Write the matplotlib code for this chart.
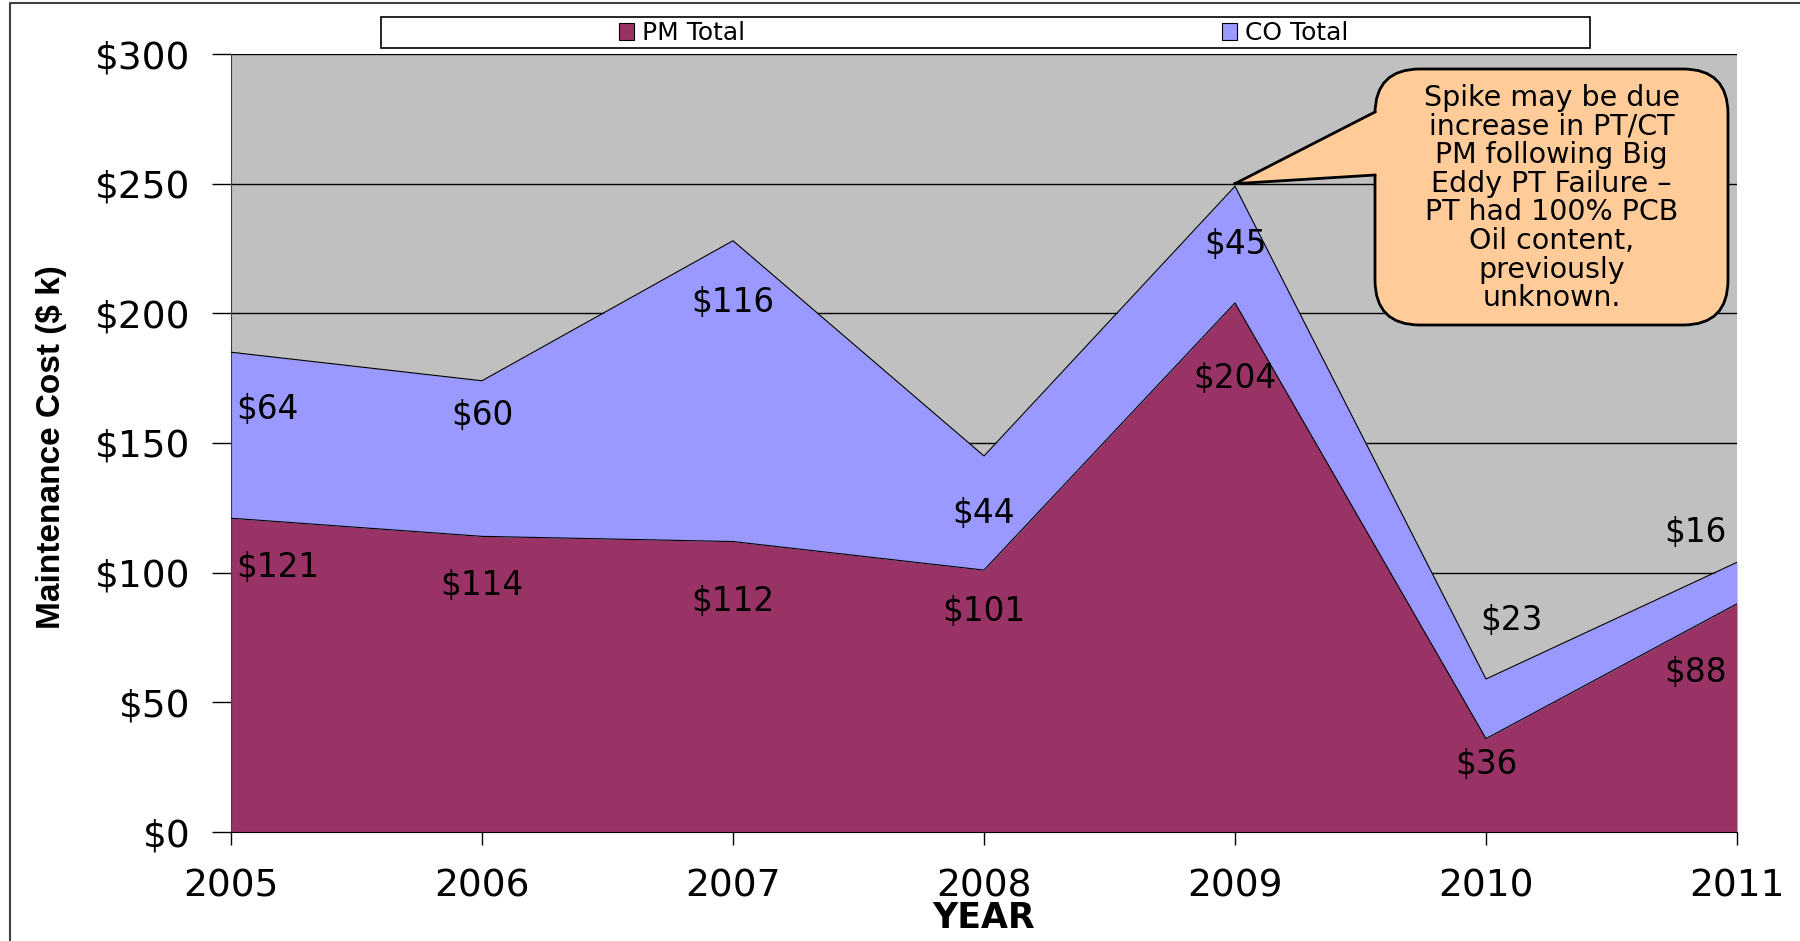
import matplotlib
matplotlib.use("Agg")
import matplotlib.pyplot as plt
from matplotlib.patches import Patch, Rectangle, FancyBboxPatch, Polygon
from matplotlib.lines import Line2D

# --- data ---
years = [2005, 2006, 2007, 2008, 2009, 2010, 2011]
pm_total = [121, 114, 112, 101, 204, 36, 88]
co_total = [64, 60, 116, 44, 45, 23, 16]
y_ticks = [0, 50, 100, 150, 200, 250, 300]
callout_text = ("Spike may be due\nincrease in PT/CT\nPM following Big\n"
                "Eddy PT Failure \u2013\nPT had 100% PCB\nOil content,\n"
                "previously\nunknown.")

# label placement (value units), as excel put them
pm_label_y = [102, 95, 89, 85, 175, 26, 61.5]
co_label_y = [163, 160.5, 204, 123, 226.5, 81.5, 115.5]
co_label_dx = [0, 0, 0, 0, 0, 0.1, 0]

PM_COL = "#993366"
CO_COL = "#9999FF"
BG_COL = "#C0C0C0"

W, H, DPI = 18.0, 9.41, 100
fig = plt.figure(figsize=(W, H), dpi=DPI)
fig.patch.set_facecolor("white")
ax = fig.add_axes([231/1800, 1-832/941, (1737-231)/1800, (832-54)/941])
ax.set_facecolor(BG_COL)

tops = [p + c for p, c in zip(pm_total, co_total)]
ax.fill_between(years, 0, pm_total, color=PM_COL, lw=0, zorder=2)
ax.fill_between(years, pm_total, tops, color=CO_COL, lw=0, zorder=2)
ax.plot(years, pm_total, color="black", lw=0.8, zorder=3)
ax.plot(years, tops, color="black", lw=0.8, zorder=3)

ax.set_xlim(2005, 2011)
ax.set_ylim(0, 300)
ax.set_xticks(years)
ax.set_yticks(y_ticks)
ax.set_yticklabels(["$%d" % v for v in y_ticks])
ax.yaxis.grid(True, color="black", lw=1)
ax.set_axisbelow(True)
for s in ("top", "right"):
    ax.spines[s].set_visible(False)
ax.spines["left"].set_color("#404040")
ax.spines["bottom"].set_color("black")
ax.tick_params(axis="y", length=14, width=1, pad=15, labelsize=27, direction="out")
ax.tick_params(axis="x", length=9, width=1, pad=17, labelsize=27, direction="out")
for lab in ax.get_xticklabels() + ax.get_yticklabels():
    lab.set_family("DejaVu Sans")

ax.set_ylabel("Maintenance Cost ($ k)", fontsize=24, fontweight="bold",
              family=["Liberation Sans", "DejaVu Sans"])
ax.yaxis.set_label_coords(-0.119, 0.495)
ax.yaxis.label.set_va("center")
ax.set_xlabel("YEAR", fontsize=25, fontweight="bold", family="DejaVu Sans")
ax.xaxis.set_label_coords(0.5, -0.11)
ax.xaxis.label.set_va("center")

# data labels
n = len(years)
for i, yr in enumerate(years):
    if i == 0:
        ha, x = "left", yr + 0.02
    elif i == n - 1:
        ha, x = "right", yr - 0.04
    else:
        ha, x = "center", yr
    ax.text(x, pm_label_y[i], "$%d" % pm_total[i], ha=ha, va="center",
            fontsize=23.5, family="DejaVu Sans", zorder=4)
    ax.text(x + co_label_dx[i], co_label_y[i], "$%d" % co_total[i], ha=ha, va="center",
            fontsize=23.5, family="DejaVu Sans", zorder=4)

# legend box on top
fig.add_artist(Rectangle((381/1800, 1-48/941), (1590-381)/1800, 31/941,
                         transform=fig.transFigure, fc="white", ec="black", lw=1.2))
handles = [Patch(fc=PM_COL, ec="black", lw=0.8, label="PM Total"),
           Patch(fc=CO_COL, ec="black", lw=0.8, label="CO Total")]
fig.legend(handles=handles, loc="center left", bbox_to_anchor=(619/1800, 1-33/941),
           ncol=2, frameon=False, handlelength=0.6, handleheight=0.7,
           handletextpad=0.3, columnspacing=19.1, borderaxespad=0, borderpad=0,
           prop={"family": "DejaVu Sans", "size": 18})

# callout bubble
bx0, by0, bx1, by1 = 13.75, 6.16, 17.28, 8.72
tip = ax.transData.transform((2009, 250)) / DPI
fig.add_artist(FancyBboxPatch((bx0, by0), bx1 - bx0, by1 - by0,
                              boxstyle="round,pad=0,rounding_size=0.45",
                              transform=fig.dpi_scale_trans, fc="#FFCC99",
                              ec="black", lw=2, zorder=5))
b_hi, b_lo = 8.29, 7.66
fig.add_artist(Polygon([tip, (bx0, b_hi), (bx0 + 0.06, b_hi), (bx0 + 0.06, b_lo), (bx0, b_lo)],
                       closed=True, transform=fig.dpi_scale_trans, fc="#FFCC99",
                       ec="none", zorder=6))
for yb in (b_hi, b_lo):
    fig.add_artist(Line2D([tip[0], bx0], [tip[1], yb], transform=fig.dpi_scale_trans,
                          color="black", lw=2, zorder=6))
fig.text((bx0 + bx1) / 2 / W, 7.43 / H, callout_text, ha="center", va="center",
         fontsize=20.5, family="DejaVu Sans", linespacing=1.03, zorder=7)

# outer frame edges
fig.add_artist(Line2D([10/1800, 10/1800, 1], [0, 1-3/941, 1-3/941],
                      transform=fig.transFigure, color="#404040", lw=1.5))

fig.savefig("out.png", dpi=DPI)
